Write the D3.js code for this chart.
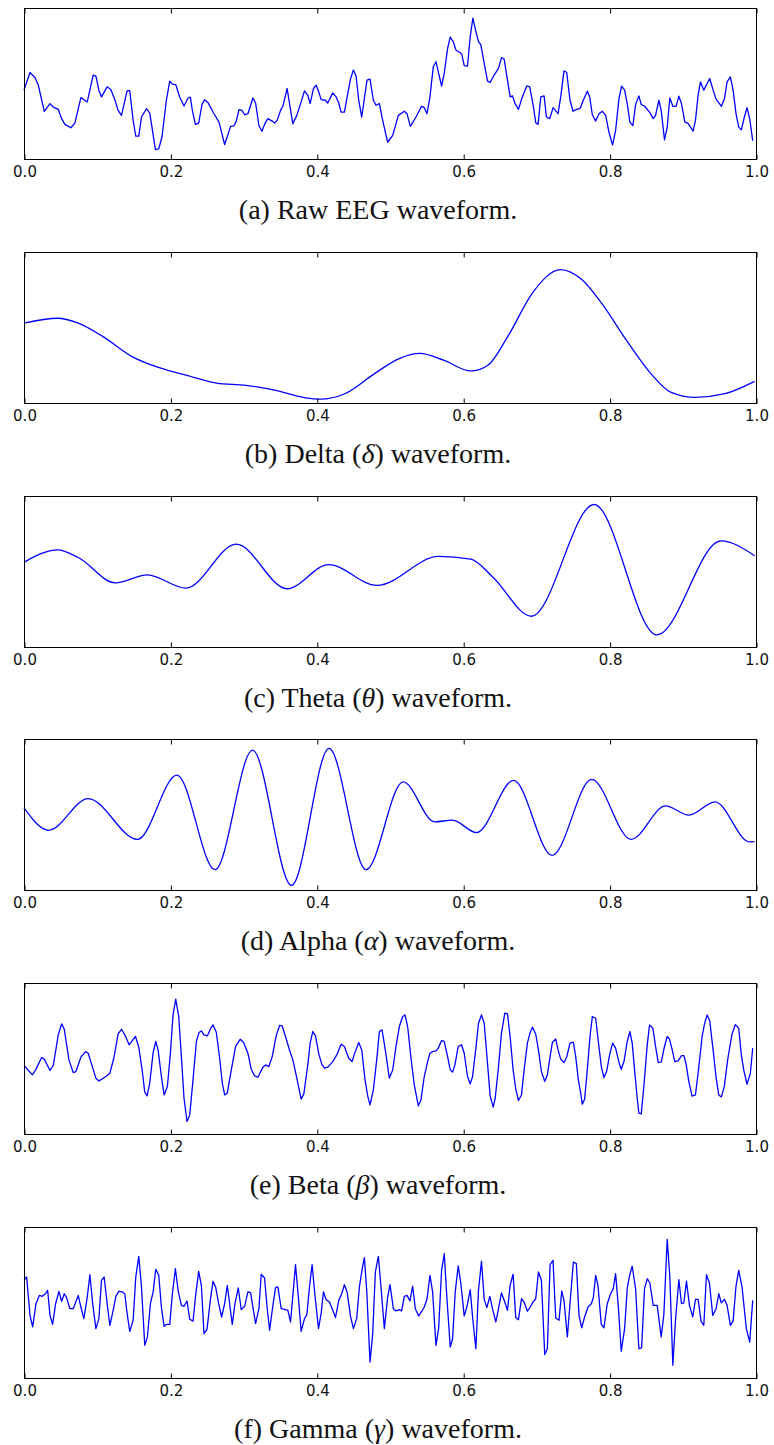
<!DOCTYPE html>
<html>
<head>
<meta charset="utf-8">
<script src="https://cdn.jsdelivr.net/npm/d3@7"></script>
<style>
  body { margin: 0; background: #fff; }
  svg { display: block; }
</style>
</head>
<body>
<svg id="chart"></svg>
<script>
// time in ms, amplitude in relative units (0 = bottom of the panel, 100 = top)
const rawEEG = [
  [0,45.6],[8.2,57.3],[15,54],[19.5,49],[27.7,31.6],[35.5,36.7],[40,34.4],[46.8,32.9],[51.4,26.7],[55.9,22.9],
  [64.1,20.7],[69.5,23.8],[77.7,40.7],[86.4,37.8],[94.5,55.6],[98.2,54.9],[102.3,45.6],[105.9,41.1],[113.6,47.8],[118.6,46],
  [124.1,39.3],[128.6,32.2],[133.2,28.9],[140.9,45.3],[144.5,45.3],[149.1,25.6],[152.7,15.1],[156.8,15.1],[160.5,27.8],[167.3,33.3],
  [171.8,30.4],[175.5,18.9],[179.5,6.2],[184.1,6.7],[188.6,14.9],[194.5,38.9],[199.1,51.6],[202.7,49.6],[207.3,49.3],[212.7,41.1],
  [218.6,35.1],[224.1,40.4],[227.3,40.9],[230,32.2],[234.1,22.9],[238.6,23.8],[243.2,36.2],[246.8,39.3],[251.4,37.3],[258.2,31.1],
  [266.4,24.4],[274.1,9.6],[282.3,21.6],[286.8,22],[290,24.9],[293.6,32.7],[297.7,32.2],[301.4,29.3],[305.9,30],[312.7,40.4],
  [316.4,37.1],[320.9,22.2],[325,18.4],[328.6,22.9],[333.2,26.7],[339.1,25.1],[342.3,23.8],[345.9,25.6],[350.5,32.2],[353.6,34.9],
  [359.5,46.7],[363.6,34],[367.3,23.3],[372.7,28.9],[378.6,37.8],[383.2,45.1],[387.7,42.2],[390.9,36.7],[395.5,46.7],[399.1,48.9],
  [402.7,44.4],[405.9,39.3],[411.4,38.9],[415,37.1],[421.8,43.8],[426.4,41.1],[430,37.1],[433.2,31.1],[437.7,31.1],[445.9,52.7],
  [450,58.9],[453.6,54.9],[457.3,38.9],[461.4,27.8],[468.6,52.2],[472.7,52.9],[477.3,38.9],[480.9,35.6],[485.5,36.7],[490,25.6],
  [496.8,11.1],[503.7,15.6],[511.4,28.9],[519.6,31.6],[523.2,30],[527.8,21.6],[535.5,27.8],[543.2,34.9],[546.8,34],[550.5,30],
  [554.6,41.1],[559.1,61.1],[562.8,64.4],[565.9,57.8],[570.5,48.2],[574.1,56.7],[578.7,73.3],[582.3,80.7],[586.4,77.8],[590,72.2],
  [596,70.4],[598.2,68.9],[601.4,61.8],[605.9,61.6],[609.6,81.1],[613.2,93.3],[617.3,84.4],[620.9,77.8],[624.1,75.6],[628.7,63.3],
  [633.2,51.6],[636.8,50.7],[642.3,55.6],[648.2,60],[652.3,67.1],[655.9,66.2],[660.5,52.2],[664.1,41.1],[667.3,41.8],[670.9,36.7],
  [675.5,32.9],[680,40],[686.8,48.4],[690.9,47.8],[696,34.4],[699.1,24],[702.3,22.9],[706,41.1],[710.5,41.8],[713.7,27.8],
  [718.2,26.7],[722.8,34],[729.6,30],[733.2,41.1],[737.7,58.4],[741.4,57.3],[745.9,38.9],[750,31.6],[754.6,32.9],[759.6,33.3],
  [764.1,38.9],[769.6,44.9],[772.8,41.1],[776.4,29.3],[781,25.1],[785.5,30],[790,31.6],[794.6,28.9],[799.1,17.8],[804.1,9.3],
  [808.2,18.9],[812.8,40],[816.4,48.2],[820.5,45.6],[824.1,36.7],[827.7,24.4],[831.8,22.2],[835.5,36],[840,41.8],[843.2,36],
  [847.7,35.1],[855,30.7],[859.6,26.7],[862.8,28.9],[867.3,38.9],[870.5,32.2],[875,12.7],[878.7,21.1],[882.3,40.4],[886.4,34.9],
  [890.9,34.9],[894.6,41.6],[898.2,36.7],[902.8,24.4],[906.8,23.8],[914.1,18.4],[917.3,25.6],[920.9,42.2],[924.1,51.1],[928.7,45.6],
  [936.8,53.3],[941.4,45.6],[945.5,39.6],[952.8,34.9],[956.9,40],[960.5,51.1],[965,54.4],[968.7,45.6],[972.7,30],[976.4,21.1],
  [980,19.3],[984.1,27.8],[987.7,34],[991.4,26.7],[995.5,12.2]
];

const delta = [
  [0,52.7],[45.9,56],[74.2,52.7],[107.9,43.8],[148.3,30.4],[195.6,21.6],[222.5,18.2],[263,13.1],[303.4,11.6],[343.9,8.2],
  [384.4,3.3],[404.6,2.4],[438.3,6],[478.8,19.3],[512.5,29.3],[540.8,32.7],[573.2,28.2],[610.3,21.1],[633.8,24.9],[660.8,43.8],
  [694.5,72.7],[733,88.2],[762,81.6],[789,66],[822.7,41.6],[856.4,19.3],[883.3,7.1],[917.1,3.6],[957.5,6],[998,14.2]
];

const theta = [
  [0,55.8],[45.9,64.1],[74.2,59],[124.7,42.2],[168.6,47.5],[221.2,38.7],[290,67.8],[359.4,38.3],[416.1,54.3],[482.1,40.5],
  [566.4,59.7],[610.3,58],[640.6,46],[693.2,20.1],[778.8,94.1],[864.5,7.7],[952.1,70],[998,60.2]
];

const alpha = [
  [0,54.6],[33.7,39.8],[87.7,60.8],[155.1,33.8],[209,76.3],[261,13.7],[312.2,92.9],[365.5,3.3],[416.7,94],[467.3,13.7],
  [517.9,71.9],[561,45.4],[585.3,46.5],[618.3,38.3],[668.9,72.8],[721.5,23.2],[775.5,73.5],[829.4,33.8],[876.6,56],[908.3,49.8],
  [944,58.6],[991.2,32.1],[998,32.3]
];

const beta = [
  [0,45.5],[11.4,39.3],[15.9,42.6],[24.1,50.8],[27.7,49.7],[35.5,42.2],[40,45.5],[46.8,65.8],[51.4,73.1],[55,69.5],
  [61.4,49.2],[67.3,40.8],[70.9,41.5],[77.7,51],[84.1,54.7],[87.7,53.6],[93.6,44.4],[98.2,37.1],[102.3,35.3],[108.2,37.1],
  [112.7,38.6],[117.3,40.4],[122.7,50.3],[128.6,66.4],[133.2,69.5],[137.7,65.8],[143.6,59.2],[147.7,61.8],[152.3,64.7],[156.8,57.6],
  [161.4,42.6],[165,27.8],[168.2,25.4],[171.8,33.8],[176.4,54.1],[180,61.4],[183.2,55.8],[187.7,38.2],[191.4,26],[195.9,31.6],
  [200,53.6],[203.6,79],[207.3,89.4],[211.4,77.9],[215,51.4],[218.6,23.8],[222.7,8.4],[226.4,12.8],[230.9,36],[235.5,61.4],
  [239.1,67.3],[242.3,68.4],[245.9,65.8],[250.5,65.1],[254.5,69.5],[258.2,72.4],[262.7,67.5],[267.3,50.3],[270.9,33.8],[274.1,26],
  [277.7,27.2],[283.2,42.6],[289.1,58.1],[295.5,62.9],[300,60.7],[305.9,53.6],[310.5,43],[315,38.6],[319.5,37.7],[326.4,44.4],
  [330,45.9],[334.5,44.8],[339.1,51.4],[344.5,65.1],[349.1,72],[352.7,71.7],[357.3,64.7],[362.7,55.8],[367.3,49.2],[373.2,36],
  [378.6,23.2],[382.3,26.7],[387.7,45.9],[390.9,60.3],[394.5,68],[398.2,65.3],[402.7,53.2],[406.8,46.4],[410.5,43.7],[415,44.4],
  [421.8,48.1],[427.3,52.5],[433.2,59.6],[437.7,58.1],[443.6,50.3],[448.2,48.1],[451.4,53.2],[457.3,60.7],[461.4,55.8],[465.9,36],
  [469.5,25.4],[472.7,19.4],[477.3,29.4],[482.3,51.4],[485.5,68],[489.1,69.1],[493.6,55.8],[499.1,37.1],[503.7,42.6],[508.2,58.1],
  [512.8,71.3],[517.3,77.9],[520.5,79],[524.1,71.3],[528.7,50.3],[533.2,32.7],[538.7,18.8],[542.3,22.7],[546.8,38.2],[551.4,48.1],
  [554.6,53.6],[558.2,54.7],[562.8,55.2],[565.9,57],[570.5,62],[574.1,61.4],[578.7,51.4],[582.3,42.6],[585.5,41.1],[588.7,45.9],
  [593.2,58.1],[597.8,59.2],[601.4,53.6],[605.9,38.2],[609.6,33.3],[612.8,38.2],[617.3,57],[620.9,73.5],[625,79],[628.7,73.5],
  [633.2,47],[636.8,25.4],[641,17.9],[643.7,23.8],[647.8,42.6],[652.3,66.9],[656.8,80.1],[660.5,79.7],[664.1,64.7],[668.2,42.6],
  [671.8,30],[675.5,22.3],[679.6,26],[683.2,42.6],[687.7,60.3],[691.4,67.3],[694.6,70.9],[699.1,66.2],[702.8,55.8],[706.8,41.5],
  [711.4,34.9],[715,39.3],[718.7,51.4],[721.8,60.7],[726.4,63.1],[729.6,55.8],[733.2,49.7],[737.7,47.5],[741.4,51],[745.9,60.3],
  [750.5,60.9],[753.7,51.4],[757.3,36],[760.5,27.2],[762.7,19.9],[765.9,23.2],[770.5,48.1],[773.2,64.7],[776.4,77.9],[781,76.8],
  [784.6,61.4],[788.7,44.8],[792.3,37.5],[795.9,41.5],[800,52.5],[804.1,60.3],[808.2,57],[812.8,47.5],[815.9,43],[819.6,48.1],
  [824.1,61.4],[827.7,68],[830.9,60.3],[834.1,42.6],[837.7,23.8],[840,13.9],[843.2,13.5],[846.8,31.6],[851.4,59.2],[854.6,72.4],
  [859.1,70.2],[862.8,58.1],[866.4,47.5],[870.5,47.7],[875,58.1],[878.7,64.7],[881.8,63],[885.5,55.8],[889.1,48.1],[893.6,48.6],
  [898.2,52.1],[901.4,52.1],[904.5,46.4],[908.2,35],[912.7,25.2],[917.3,26],[921.8,44.2],[926.4,64.7],[929.6,72.9],[933.2,79],
  [936.8,75.1],[941.4,55.8],[945.5,37.5],[949.1,26],[952.7,24.7],[956.8,31.8],[961.4,49.7],[967.3,66.4],[971.8,72.6],[976.4,70.2],
  [980,52.3],[983.2,42.6],[987.7,33.1],[992.3,40.4],[995.5,57]
];

const gamma = [
  [0,64.7],[3.6,66.9],[8.2,41.5],[11.8,33.8],[16.4,49.2],[20.9,54.7],[25,54.1],[28.6,55.4],[32.3,58.1],[35.5,41.5],
  [39.1,35.5],[43.2,49.2],[47.7,57.4],[51.4,50.8],[55,55.8],[58.2,53.2],[62.7,45.9],[67.3,45.9],[74.1,54.7],[77.7,47],
  [81.8,39.3],[86.4,53.6],[90,68.4],[93.6,50.3],[98.2,32.7],[102.3,39.3],[105.9,64.7],[109.5,66.9],[113.6,49.2],[117.3,34.9],
  [121.8,44.8],[125.5,54.1],[129.5,57.4],[134.5,57],[137.7,55.8],[140.9,42.6],[144.5,30.9],[149.1,38.2],[152.7,66.9],[156.8,80.6],
  [160.5,60.3],[165,21.6],[168.6,27.2],[172.7,49.2],[176.4,57],[180,72],[184.1,68],[187.7,47],[191.4,34.2],[194.5,35.5],
  [199.1,35.5],[202.7,55.8],[206.8,72.4],[210.5,58.1],[215,48.1],[218.6,47.5],[222.7,51],[226.4,38.9],[230.9,37.7],[234.5,54.7],
  [238.6,70.6],[242.3,61.4],[245.9,29.4],[250,32.2],[254.5,51.4],[258.2,64],[261.8,60.3],[265.9,49.2],[270,40.4],[274.1,49.2],
  [277.7,61.4],[280.9,49.2],[284.5,35.5],[288.2,49.2],[292.7,59.6],[296.8,45.3],[301.4,47.5],[305.9,57],[309.5,56.5],[312.7,47],
  [316.4,36],[320.9,45.9],[324.1,68.7],[328.6,66.2],[332.3,45.9],[335.5,31.6],[339.1,44.8],[343.6,59.8],[346.8,60.3],[351.4,45.9],
  [357.3,45.3],[360.5,44.8],[364.1,37.1],[367.3,54.7],[370.9,75.1],[375,52.5],[378.6,30.9],[383.2,39.3],[386.4,41.9],[390,60.3],
  [393.6,75.1],[397.7,53.6],[402.3,32.7],[405.9,42.6],[409.1,57],[412.7,51.9],[417.3,50.3],[421.8,44.8],[425.5,40],[430,51.4],
  [434.1,55.8],[437.7,61.8],[441.4,57],[445.9,41.1],[450,32.7],[454.5,39.3],[458.2,60.3],[461.8,71.7],[465,79.7],[468.2,58.1],
  [472.7,10.6],[476.4,29.4],[480,70.2],[484.1,80.6],[487.7,60.3],[492.3,32.7],[496.8,53.6],[500,61.8],[504.6,45.9],[508.2,44.4],
  [512.8,45.3],[515.9,44.4],[519.6,54.1],[523.2,54.7],[527.3,51],[530.9,60.9],[534.6,45.9],[539.1,41.1],[543.7,44.4],[546.8,47],
  [550.5,52.1],[554.6,68],[558.2,57],[562.8,21.6],[566.4,32.7],[570.5,71.3],[574.1,82.3],[577.8,52.5],[582.3,20.5],[585.5,26],
  [589.1,57],[593.2,74.2],[596.8,62.5],[601.4,41.1],[605,47],[609.6,58.5],[612.8,40.4],[617.3,19.4],[620.9,58.1],[625,77.3],
  [628.7,52.1],[632.3,46.6],[636.4,54.1],[640,45.9],[644.6,37.1],[647.8,44.8],[652.3,56.3],[656.8,50.3],[660.5,44.8],[664.1,61.4],
  [668.2,68.7],[671.8,40],[675.5,38.6],[679.6,52.5],[683.2,50.3],[687.7,44.2],[691.4,47],[695.5,50.3],[699.1,52.5],[702.8,70.2],
  [706.8,64.7],[711.4,15.5],[715,19.4],[718.7,75.1],[722.7,77.9],[726.4,39.7],[730.9,38.2],[734.6,57.6],[737.7,51.4],[742.3,27.2],
  [745.9,49.2],[750.5,76.8],[754.6,75.7],[758.2,41.5],[761.8,33.3],[765.9,40.4],[770.5,47],[775,49.2],[777.7,53],[781,68],
  [784.1,61.4],[788.6,35.5],[792.3,33.3],[796.8,49.2],[801.4,55.8],[805,59.2],[808.2,69.1],[811.8,48.1],[815.9,17.7],[820.5,32.7],
  [824.1,59.2],[827.3,68],[830.9,74],[835.5,59.2],[840,19.4],[843.7,19.9],[847.7,59.2],[851.4,65.8],[855,62.9],[859.6,48.1],
  [865,48.1],[870.5,27.2],[874.1,41.9],[878.7,91.8],[882.3,66.9],[886.4,8.4],[890,38.2],[894.6,65.1],[898.2,49.2],[901.4,49.7],
  [905,64.2],[909.1,48.1],[913.6,40.4],[917.3,52.1],[920.9,52.1],[925,37.5],[928.7,34.9],[932.3,68.4],[936.4,62.9],[940.9,41.5],
  [945.5,45.9],[949.1,55.8],[952.7,49.7],[956.8,52.1],[960.5,48.1],[965,34.9],[968.7,37.7],[972.7,60.9],[976.4,71.3],[980.9,60.3],
  [986.8,32.7],[991.4,23.8],[995.5,51.4]
];

const series = [rawEEG, delta, theta, alpha, beta, gamma];
const smooth = [false, true, true, true, false, false];

// caption pieces: [before, greek letter, after]
const captions = [
  ["(a) Raw EEG waveform.", "", ""],
  ["(b) Delta (", "δ", ") waveform."],
  ["(c) Theta (", "θ", ") waveform."],
  ["(d) Alpha (", "α", ") waveform."],
  ["(e) Beta (", "β", ") waveform."],
  ["(f) Gamma (", "γ", ") waveform."]
];

const tickVals = [0, 200, 400, 600, 800, 1000];

const W = 774, H = 1445;
const left = 24, right = 756;
const firstTop = 8, step = 243.8, panelH = 151;

const svg = d3.select('#chart').attr('width', W).attr('height', H);

const x = d3.scaleLinear().domain([0, 1000]).range([left, right]);

series.forEach((data, i) => {
  let top = firstTop + i * step;
  let bottom = top + panelH;
  let y = d3.scaleLinear().domain([0, 100]).range([bottom, top]);

  let g = svg.append('g').attr('class', 'panel');

  let line = d3.line()
    .x(d => x(d[0]))
    .y(d => y(d[1]))
    .curve(smooth[i] ? d3.curveMonotoneX : d3.curveLinear);

  g.append('path')
    .datum(data)
    .attr('d', line)
    .attr('fill', 'none')
    .attr('stroke', '#0000ff')
    .attr('stroke-width', 1.3)
    .attr('stroke-linejoin', 'round');

  // frame
  g.append('rect')
    .attr('x', left + 0.5)
    .attr('y', Math.round(top) + 0.5)
    .attr('width', right - left)
    .attr('height', panelH)
    .attr('fill', 'none')
    .attr('stroke', '#000')
    .attr('stroke-width', 1);

  // inward ticks on bottom with labels
  let xAxis = d3.axisBottom(x)
    .tickValues(tickVals)
    .tickSize(-5)
    .tickPadding(7)
    .tickFormat(d => (d / 1000).toFixed(1));
  let ax = g.append('g')
    .attr('transform', 'translate(0.5,' + (Math.round(top) + panelH + 0.5) + ')')
    .call(xAxis);
  ax.select('.domain').remove();
  ax.selectAll('text')
    .style('font-family', '"DejaVu Sans", sans-serif')
    .style('font-size', '15px')
    .attr('fill', '#111');

  // inward ticks on top
  let topAxis = d3.axisTop(x)
    .tickValues(tickVals)
    .tickSize(-5)
    .tickFormat('');
  let tx = g.append('g')
    .attr('transform', 'translate(0.5,' + (Math.round(top) + 0.5) + ')')
    .call(topAxis);
  tx.select('.domain').remove();

  // caption
  let cap = g.append('text')
    .attr('x', 378)
    .attr('y', bottom + 60)
    .attr('text-anchor', 'middle')
    .style('font-family', '"Liberation Serif", "Times New Roman", serif')
    .style('font-size', '28px')
    .attr('fill', '#111');
  cap.append('tspan').text(captions[i][0]);
  if (captions[i][1]) {
    cap.append('tspan').style('font-style', 'italic').text(captions[i][1]);
    cap.append('tspan').text(captions[i][2]);
  }
});
</script>
</body>
</html>
